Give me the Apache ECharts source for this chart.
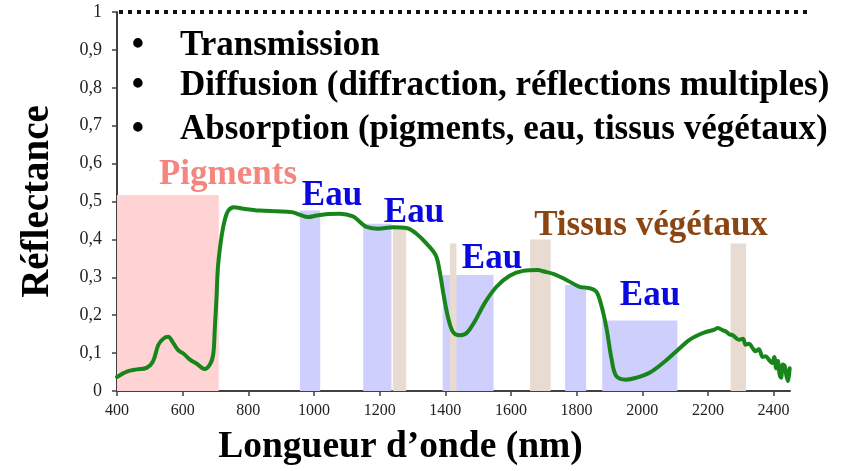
<!DOCTYPE html>
<html>
<head>
<meta charset="utf-8">
<script src="https://cdn.jsdelivr.net/npm/echarts@6/dist/echarts.min.js"></script>
<style>
html,body{margin:0;padding:0;background:#fff;}
#c{width:864px;height:471px;}
</style>
</head>
<body>
<div id="c"></div>
<script>
// ---- data ----
const wavelengths = [400,430,460,490,510,526,541,556,571,587,602,622,643,666,683,693,698,703,708,719,729,739,756,785,835,886,932,957,982,1008,1043,1079,1119,1140,1160,1195,1241,1282,1312,1343,1371,1383,1395,1409,1424,1444,1465,1490,1520,1556,1596,1637,1683,1698,1733,1769,1809,1840,1860,1875,1891,1906,1921,1951,1982,2022,2063,2104,2144,2185,2220,2230,2246,2255,2265,2276,2285,2295,2307,2315,2325,2337,2345,2355,2367,2375,2388,2396,2402,2408,2413,2418,2423,2428,2434,2439,2444,2449];
const reflectance = [0.037,0.051,0.057,0.061,0.079,0.122,0.138,0.143,0.127,0.107,0.099,0.083,0.072,0.058,0.070,0.096,0.166,0.245,0.332,0.411,0.454,0.476,0.485,0.481,0.476,0.474,0.472,0.465,0.459,0.463,0.467,0.468,0.461,0.446,0.433,0.428,0.432,0.430,0.415,0.389,0.358,0.315,0.253,0.192,0.155,0.147,0.153,0.184,0.232,0.275,0.304,0.317,0.319,0.316,0.308,0.293,0.275,0.271,0.262,0.227,0.166,0.087,0.039,0.030,0.035,0.048,0.074,0.105,0.135,0.153,0.162,0.166,0.160,0.157,0.150,0.147,0.140,0.135,0.138,0.122,0.125,0.112,0.105,0.110,0.090,0.092,0.080,0.074,0.090,0.060,0.079,0.045,0.035,0.070,0.066,0.040,0.026,0.060,0.057];

// bands: [xStart, xEnd, top]
const pigmentBand = [[400, 710, 0.517]];
const waterBands = [[957, 1019, 0.476], [1150, 1236, 0.441], [1392, 1547, 0.306], [1765, 1829, 0.28], [1878, 2107, 0.186]];
const tissueBands = [[1240, 1281, 0.428], [1414, 1434, 0.389], [1658, 1721, 0.40], [2269, 2316, 0.389]];

const xTicks = [400,600,800,1000,1200,1400,1600,1800,2000,2200,2400];
const yTicks = [0,0.1,0.2,0.3,0.4,0.5,0.6,0.7,0.8,0.9,1];

const bulletLines = ['Transmission', 'Diffusion (diffraction, réflections multiples)', 'Absorption (pigments, eau, tissus végétaux)'];
const xName = 'Longueur d\u2019onde (nm)';
const yName = 'Réflectance';

const SERIF = '"Liberation Serif", "Times New Roman", serif';

function bandData(list) {
  return list.map(b => [{xAxis: b[0], yAxis: 0}, {xAxis: b[1], yAxis: b[2]}]);
}
function bandSeries(name, list, color) {
  return {
    name: name, type: 'line', data: [], silent: true,
    markArea: {silent: true, itemStyle: {color: color}, label: {show: false}, data: bandData(list)}
  };
}

const chart = echarts.init(document.getElementById('c'), null, {renderer: 'canvas'});

const option = {
  animation: false,
  grid: {left: 117, right: 74, top: 12, bottom: 78, containLabel: false},
  xAxis: {
    type: 'value', min: 400, max: 2450, interval: 200,
    name: xName, nameLocation: 'middle', nameGap: 37,
    nameTextStyle: {fontFamily: SERIF, fontWeight: 'bold', fontSize: 37.5, color: '#000', padding: [0, 106, 0, 0]},
    axisLine: {show: true, lineStyle: {color: '#404040', width: 2}},
    axisTick: {show: true, inside: false, length: 5, lineStyle: {color: '#404040', width: 1.5}, customValues: xTicks},
    axisLabel: {fontFamily: SERIF, fontSize: 16, color: '#222', margin: 12, customValues: xTicks,
      formatter: v => String(v)},
    splitLine: {show: false}
  },
  yAxis: {
    type: 'value', min: 0, max: 1, interval: 0.1,
    name: yName, nameLocation: 'middle', nameGap: 60, nameRotate: 90,
    nameTextStyle: {fontFamily: SERIF, fontWeight: 'bold', fontSize: 39, color: '#000'},
    axisLine: {show: true, lineStyle: {color: '#404040', width: 2}},
    axisTick: {show: true, inside: false, length: 5, lineStyle: {color: '#404040', width: 1.5}, customValues: yTicks},
    axisLabel: {fontFamily: SERIF, fontSize: 18, color: '#222', margin: 15, customValues: yTicks,
      formatter: v => (Math.round(v * 10) / 10).toString().replace('.', ',')},
    splitLine: {show: false}
  },
  series: [
    bandSeries('pigments', pigmentBand, '#FFD3D3'),
    bandSeries('eau', waterBands, '#CFCFFD'),
    bandSeries('tissus', tissueBands, '#E8DCD2'),
    {
      name: 'Réflectance', type: 'line', z: 5,
      data: wavelengths.map((w, i) => [w, reflectance[i]]),
      showSymbol: false, smooth: 0.35,
      lineStyle: {color: '#17851A', width: 4, cap: 'round', join: 'round'}
    }
  ]
};
chart.setOption(option);

// decorations placed from axis coordinates
const p0 = chart.convertToPixel({gridIndex: 0}, [400, 1]);
const p1 = chart.convertToPixel({gridIndex: 0}, [2515, 1]);
const big = 'bold 35px ' + SERIF;
const graphics = [
  {type: 'line', z: 10, shape: {x1: p0[0] + 2, y1: p0[1], x2: p1[0], y2: p1[1]},
   style: {stroke: '#111', lineWidth: 4, lineDash: [4, 5]}}
];
const bulletY = [46, 86, 130];
bulletLines.forEach((t, i) => {
  graphics.push({type: 'text', z: 10, style: {text: '\u2022', x: 138, y: bulletY[i], font: big, fill: '#000', textAlign: 'center', textVerticalAlign: 'middle'}});
  graphics.push({type: 'text', z: 10, style: {text: t, x: 180, y: bulletY[i], font: big, fill: '#000', textAlign: 'left', textVerticalAlign: 'middle'}});
});
const labels = [
  {text: 'Pigments', x: 228, y: 175, fill: '#F4857F'},
  {text: 'Eau', x: 332, y: 196, fill: '#0A0AE0'},
  {text: 'Eau', x: 414, y: 213, fill: '#0A0AE0'},
  {text: 'Eau', x: 492, y: 259, fill: '#0A0AE0'},
  {text: 'Eau', x: 650, y: 296, fill: '#0A0AE0'},
  {text: 'Tissus végétaux', x: 651, y: 226, fill: '#8B4513'}
];
labels.forEach(l => graphics.push({type: 'text', z: 10, style: {text: l.text, x: l.x, y: l.y, font: big, fill: l.fill, textAlign: 'center', textVerticalAlign: 'middle'}}));
chart.setOption({graphic: graphics});
</script>
</body>
</html>
